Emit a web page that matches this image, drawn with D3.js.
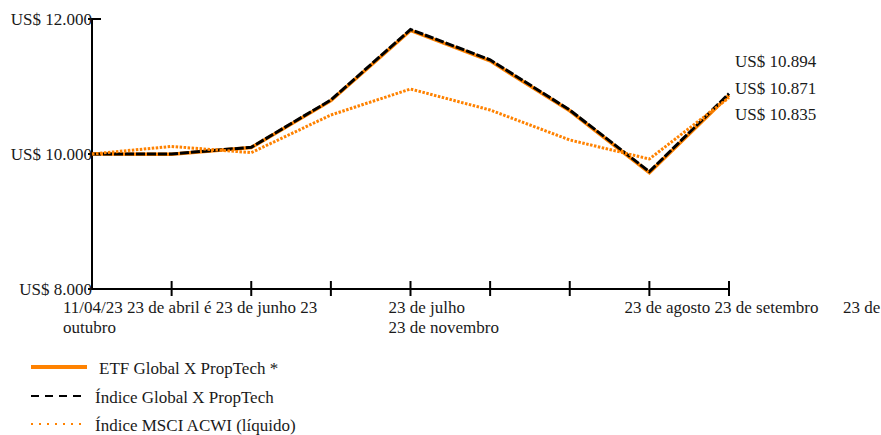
<!DOCTYPE html>
<html><head><meta charset="utf-8">
<script src="https://cdn.jsdelivr.net/npm/d3@7"></script>
<style>
body{margin:0;background:#fff;}
text{font-family:"Liberation Serif","Times New Roman",serif;font-size:17px;fill:#1a1a1a;}
</style></head>
<body><svg id="c" width="881" height="435"></svg>
<script>
const periods = [0,1,2,3,4,5,6,7,8];
const etfValues   = [10000, 9995, 10095, 10790, 11830, 11380, 10640, 9725, 10871];
const indexValues = [10000, 10000, 10100, 10800, 11845, 11395, 10652, 9739, 10894];
const msciValues  = [10000, 10112, 10020, 10578, 10963, 10652, 10208, 9926, 10835];
const yTicks = [8000, 10000, 12000];
const endLabels = ["US$ 10.894", "US$ 10.871", "US$ 10.835"];
const xLabelGroups = [
  {tick:0, lines:["11/04/23 23 de abril é 23 de junho 23","outubro"]},
  {tick:4, lines:["23 de julho","23 de novembro"]},
  {tick:7, lines:["23 de agosto 23 de setembro"]},
  {tick:8, lines:["23 de"]}
];
const xLabelDx = [-29, -22, -25, 114];
const legendNames = ["ETF Global X PropTech *", "Índice Global X PropTech", "Índice MSCI ACWI (líquido)"];

const orange = "#ff8200";
const svg = d3.select("#c");
const x = d3.scaleLinear().domain([0, 8]).range([92, 729]);
const y = d3.scaleLinear().domain([8000, 12000]).range([289, 19]);
const fmt = v => "US$ " + d3.format(",")(v).replace(/,/g, ".");

// y axis
svg.append("line").attr("x1",92).attr("x2",92).attr("y1",y(12000)-1).attr("y2",y(8000)+1)
  .attr("stroke","#000").attr("stroke-width",2);
yTicks.forEach(t=>{
  svg.append("line").attr("x1",88).attr("x2",101).attr("y1",y(t)).attr("y2",y(t)).attr("stroke","#000").attr("stroke-width",2);
  svg.append("text").attr("x",92).attr("y",y(t)+6).attr("text-anchor","end").text(fmt(t));
});
// x axis
svg.append("line").attr("x1",92).attr("x2",x(8)).attr("y1",y(8000)).attr("y2",y(8000)).attr("stroke","#000").attr("stroke-width",2);
periods.slice(1).forEach(p=>{
  svg.append("line").attr("x1",x(p)).attr("x2",x(p)).attr("y1",y(8000)-8).attr("y2",y(8000)+7).attr("stroke","#000").attr("stroke-width",2);
});
xLabelGroups.forEach((g,i)=>{
  const t = svg.append("text").attr("x",x(g.tick)+xLabelDx[i]).attr("y",313);
  g.lines.forEach((l,j)=>t.append("tspan").attr("x",x(g.tick)+xLabelDx[i]).attr("dy",j?20:0).text(l));
});

const line = d3.line().x((d,i)=>x(periods[i])).y(d=>y(d));
svg.append("path").attr("d",line(etfValues)).attr("fill","none").attr("stroke",orange).attr("stroke-width",3.5);
svg.append("path").attr("d",line(indexValues)).attr("fill","none").attr("stroke","#000").attr("stroke-width",3).attr("stroke-dasharray","9,2");
svg.append("path").attr("d",line(msciValues)).attr("fill","none").attr("stroke",orange).attr("stroke-width",3).attr("stroke-dasharray","2.5,1.5");

endLabels.forEach((l,i)=>{
  svg.append("text").attr("x",735).attr("y",67+i*26.5).text(l);
});

// legend
const ly = [367, 396, 424];
svg.append("line").attr("x1",31).attr("x2",87).attr("y1",ly[0]).attr("y2",ly[0]).attr("stroke",orange).attr("stroke-width",4);
svg.append("line").attr("x1",31).attr("x2",81).attr("y1",ly[1]).attr("y2",ly[1]).attr("stroke","#000").attr("stroke-width",2).attr("stroke-dasharray","8,6");
svg.append("line").attr("x1",31).attr("x2",81).attr("y1",ly[2]).attr("y2",ly[2]).attr("stroke",orange).attr("stroke-width",2).attr("stroke-dasharray","2,6");
const lx = [99, 95, 95];
legendNames.forEach((n,i)=>{
  svg.append("text").attr("x",lx[i]).attr("y",ly[i]+7).text(n);
});
</script></body></html>
